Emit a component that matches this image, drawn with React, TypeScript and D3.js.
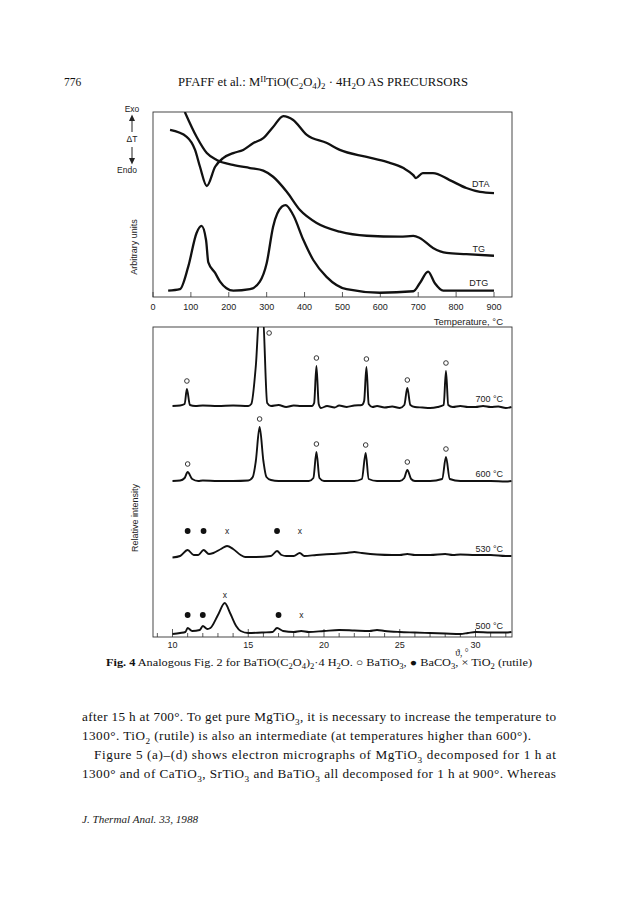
import React from 'react';
import * as d3 from 'd3';

// ---------- Thermal analysis (top panel) ----------
const TEMP_TICKS = [0, 100, 200, 300, 400, 500, 600, 700, 800, 900];
const DTA: [number, number][] = [
  [45, 90.3], [89, 86.6], [111, 79.5], [124, 70.4], [142, 60.0], [164, 70.4], [185, 75.1],
  [212, 77.8], [238, 79.5], [265, 83.2], [291, 85.9], [317, 91.9], [344, 97.8], [370, 95.7],
  [406, 87.6], [459, 83.2], [493, 79.5], [564, 75.7], [617, 73.0], [661, 69.7], [687, 65.9],
  [694, 64.3], [712, 67.0], [739, 67.0], [783, 63.2], [827, 58.9], [863, 56.8], [900, 56.2],
];
const TG: [number, number][] = [
  [84, 100], [115, 86.6], [142, 77.8], [168, 74.1], [211, 71.4], [256, 69.7], [291, 68.3],
  [317, 65.0], [353, 56.9], [388, 47.0], [432, 40.0], [493, 35.3], [564, 33.1], [652, 32.6],
  [687, 33.0], [704, 31.9], [739, 26.5], [775, 23.8], [827, 23.2], [900, 22.3],
];
const DTG: [number, number][] = [
  [40, 3.4], [71, 4.2], [93, 16.4], [115, 34.6], [128, 38.4], [140, 30.8], [146, 18.7],
  [164, 13.0], [177, 8.3], [194, 4.7], [212, 3.4], [256, 4.2], [282, 8.3], [300, 18.2],
  [317, 38.0], [340, 48.8], [350, 49.7], [370, 44.3], [397, 30.8], [423, 20.0], [458, 10.9],
  [511, 4.2], [599, 2.3], [687, 3.1], [704, 7.4], [726, 13.7], [744, 7.4], [766, 3.4],
  [827, 3.4], [900, 3.4],
];
const CURVE_NAMES = ['DTA', 'TG', 'DTG'];
const CURVE_LABEL_POS: [number, number][] = [[865, 61], [860, 26], [860, 7.5]];

// ---------- XRD (bottom panel) ----------
const THETA_MAJOR = [10, 15, 20, 25, 30];
const THETA_MINOR = d3.range(9, 33, 1);
const PATTERN_LABELS = ['700 °C', '600 °C', '530 °C', '500 °C'];
const PATTERN_OFFSETS = [231, 156, 81, 4];
const P700: [number, number][] = [
  [10.0, 0], [10.5, 0.5], [10.8, 2], [10.95, 17], [11.15, 1], [11.5, 0], [12, 0.5], [13, 0],
  [14, 0.5], [15, 0], [15.2, 2], [15.5, 40], [15.75, 95], [15.95, 95], [16.25, 3], [16.5, 0],
  [17, 1], [17.5, -1], [18, 0.5], [18.5, 0], [19.2, 0], [19.35, 3], [19.5, 40], [19.65, 2],
  [19.8, -2], [20.2, 0], [20.7, -1.5], [21, 0.5], [21.5, -1], [22, 0.5], [22.5, 1], [22.65, 5],
  [22.8, 39], [22.95, 2], [23.2, -1], [23.5, 0], [24, -1.5], [24.5, -0.5], [25, -2], [25.3, 1],
  [25.5, 18], [25.7, 1], [26, -1], [26.5, -1.5], [27, -2], [27.5, -1], [27.9, 1], [28.05, 35],
  [28.2, 1], [28.5, -1], [29, 0], [29.5, -1], [30, -1], [30.5, 0], [31, -1], [31.5, -0.5],
  [32, -2], [32.37, -1],
];
const P600: [number, number][] = [
  [10, 0], [10.5, 0.5], [10.8, 3], [11.0, 9], [11.3, 2], [11.7, 0], [12, 0.5], [13, 0], [14, 0],
  [15, 0.5], [15.3, 4], [15.5, 20], [15.75, 54], [16.0, 20], [16.2, 4], [16.5, 1], [17, 0],
  [18, 0], [19, 0], [19.3, 3], [19.5, 29], [19.7, 3], [20, 0], [21, 0], [22, 0], [22.5, 2],
  [22.75, 28], [22.95, 2], [23.5, 0], [24, 0], [25, 0], [25.3, 3], [25.5, 11], [25.75, 2],
  [26, 0], [27, 0], [27.8, 2], [28.05, 24], [28.3, 2], [29, 0], [30, 0], [31, 0], [32, -0.5],
  [32.37, 0],
];
const P530: [number, number][] = [
  [10, -1.5], [10.5, 0], [11.0, 6], [11.4, 1], [11.7, 1], [12.05, 6], [12.4, 2], [12.7, 3],
  [13.2, 7], [13.6, 10], [14, 7], [14.5, 1], [14.8, -1], [15.5, -1], [16.5, 0], [16.9, 5],
  [17.2, 1], [17.5, 0], [18, 0], [18.4, 3], [18.7, 0], [19.5, 1], [20.5, 2], [21.5, 3], [22, 4],
  [22.5, 3], [23.5, 1.5], [24.5, 1], [25, 1], [25.5, 2], [26, 1], [27, 1], [28, 2], [28.5, 1],
  [29, 1.5], [30, 1], [31, 1], [32, 0], [32.37, 0],
];
const P500: [number, number][] = [
  [10, -1], [10.5, 0], [10.85, 1], [11.0, 5], [11.3, 2], [11.8, 3], [12.0, 7], [12.3, 4],
  [12.5, 5], [13.0, 18], [13.45, 30], [13.8, 20], [14.2, 7], [14.5, 2], [15, 0], [16, 0.5],
  [16.6, 1], [16.9, 5], [17.3, 2], [18, 1], [18.5, 2], [19, 1], [20, 2], [21, 3], [22, 2.5],
  [23, 2], [23.5, 3], [24, 2], [25, 1], [26, 0.5], [27, 0], [28, -0.5], [29, -1], [29.5, 0],
  [30, 1], [31, 0.5], [32, 0.5], [32.37, 1],
];
const PATTERNS = [P700, P600, P530, P500];
const M700: [number, string][] = [[10.95, 'o'], [15.85, 'o'], [19.5, 'o'], [22.8, 'o'], [25.5, 'o'], [28.05, 'o']];
const M600: [number, string][] = [[11.0, 'o'], [15.75, 'o'], [19.5, 'o'], [22.75, 'o'], [25.5, 'o'], [28.05, 'o']];
const M530: [number, string][] = [[11.0, 'b'], [12.05, 'b'], [13.6, 'x'], [16.9, 'b'], [18.4, 'x']];
const M500: [number, string][] = [[11.0, 'b'], [12.0, 'b'], [13.45, 'x'], [17.0, 'b'], [18.5, 'x']];
const MARKERS = [M700, M600, M530, M500];
const MARKER_MIN = [0, 0, 25, 18];

// ---------- Page text ----------
const HEADER_PAGE = '776';
const HEADER_TITLE = 'PFAFF et al.: M^{II}TiO(C_{2}O_{4})_{2} · 4H_{2}O AS PRECURSORS';
const CAPTION = '*{Fig. 4} Analogous Fig. 2 for BaTiO(C_{2}O_{4})_{2}·4 H_{2}O. ○ BaTiO_{3}, ● BaCO_{3}, × TiO_{2} (rutile)';
const BODY = [
  'after 15 h at 700°. To get pure MgTiO_{3}, it is necessary to increase the temperature to',
  '1300°. TiO_{2} (rutile) is also an intermediate (at temperatures higher than 600°).',
  'Figure 5 (a)–(d) shows electron micrographs of MgTiO_{3} decomposed for 1 h at',
  '1300° and of CaTiO_{3}, SrTiO_{3} and BaTiO_{3} all decomposed for 1 h at 900°. Whereas',
];
const FOOTER = 'J. Thermal Anal. 33, 1988';

function rich(s: string, size: number) {
  const parts = s.split(/(_\{[^}]*\}|\^\{[^}]*\}|\*\{[^}]*\})/);
  let cur = 0;
  const out: any[] = [];
  parts.forEach((p, i) => {
    if (!p) return;
    let target = 0, txt = p, fs = size, bold = false;
    if (p.startsWith('_{')) { target = 0.3 * size; txt = p.slice(2, -1); fs = size * 0.7; }
    else if (p.startsWith('^{')) { target = -0.38 * size; txt = p.slice(2, -1); fs = size * 0.7; }
    else if (p.startsWith('*{')) { txt = p.slice(2, -1); bold = true; }
    const dy = target - cur;
    cur = target;
    out.push(<tspan key={i} dy={dy} fontSize={fs} fontWeight={bold ? 'bold' : undefined}>{txt}</tspan>);
  });
  return out;
}

const SANS = '"Liberation Sans", Arial, sans-serif';
const SERIF = '"Liberation Serif", "Times New Roman", serif';

export default function App() {
  // top panel
  const tL = 153, tR = 512, tT = 112, tB = 297;
  const xT = d3.scaleLinear().domain([0, 900]).range([153, 494]);
  const yT = d3.scaleLinear().domain([0, 100]).range([tB, tT]);
  const lineT = d3.line<[number, number]>().x(d => xT(d[0])).y(d => yT(d[1])).curve(d3.curveMonotoneX);

  // bottom panel
  const bL = 153, bR = 512, bT = 327, bB = 637;
  const xB = d3.scaleLinear().domain([10, 30]).range([172.5, 475.5]);
  const yB = d3.scaleLinear().domain([0, 310]).range([bB, bT]);
  const lineB = (off: number) =>
    d3.line<[number, number]>().x(d => xB(d[0])).y(d => yB(d[1] + off)).curve(d3.curveMonotoneX);

  const markerEls: any[] = [];
  MARKERS.forEach((ms, pi) => {
    const pat = PATTERNS[pi];
    const off = PATTERN_OFFSETS[pi];
    ms.forEach(([th, sym], mi) => {
      const local = d3.max(pat.filter(d => Math.abs(d[0] - th) <= 0.3), d => d[1]) ?? 0;
      let lvl = Math.max(local + 8, MARKER_MIN[pi]);
      let xx = xB(th);
      const maxLvl = 310 - 6 - off;
      if (lvl > maxLvl) { lvl = maxLvl; xx += 8; }
      const yy = yB(lvl + off);
      const key = `${pi}-${mi}`;
      if (sym === 'o') markerEls.push(<circle key={key} cx={xx} cy={yy} r={2.3} fill="none" stroke="#222" strokeWidth={0.9} />);
      else if (sym === 'b') markerEls.push(<circle key={key} cx={xx} cy={yy} r={2.9} fill="#111" />);
      else markerEls.push(<text key={key} x={xx} y={yy + 3} fontSize={8.5} fontFamily={SANS} textAnchor="middle" fill="#222">x</text>);
    });
  });

  const bodyX = [82, 82, 94, 82];
  const bodyLen = [474, 449, 462, 474];
  const bodyY = [721, 740, 759, 778];

  return (
    <svg width={643} height={903} style={{ position: 'absolute', left: 0, top: 0, background: '#fff' }}>
      <rect width={643} height={903} fill="#fff" />
      <defs>
        <clipPath id="clipT"><rect x={tL} y={tT} width={tR - tL} height={tB - tT} /></clipPath>
        <clipPath id="clipB"><rect x={bL} y={bT} width={bR - bL} height={bB - bT} /></clipPath>
      </defs>

      {/* header */}
      <text x={64} y={86} fontFamily={SERIF} fontSize={11.5} fill="#111">{HEADER_PAGE}</text>
      <text x={178} y={86} fontFamily={SERIF} fontSize={11.5} fill="#111" textLength={290} lengthAdjust="spacingAndGlyphs">{rich(HEADER_TITLE, 11.5)}</text>

      {/* ---------- top panel ---------- */}
      <rect x={tL} y={tT} width={tR - tL} height={tB - tT} fill="none" stroke="#333" strokeWidth={0.9} />
      {TEMP_TICKS.map(t => (
        <g key={t}>
          <line x1={xT(t)} x2={xT(t)} y1={tB} y2={tB - 5} stroke="#333" strokeWidth={0.8} />
          <text x={xT(t)} y={310} fontFamily={SANS} fontSize={9} textAnchor="middle" fill="#222">{t}</text>
        </g>
      ))}
      <text x={503} y={325} fontFamily={SANS} fontSize={9.5} textAnchor="end" fill="#222">Temperature, °C</text>
      <g clipPath="url(#clipT)" fill="none" stroke="#111" strokeWidth={2.3} strokeLinejoin="round">
        {[DTA, TG, DTG].map((s, i) => <path key={i} d={lineT(s) || ''} />)}
      </g>
      {CURVE_NAMES.map((n, i) => (
        <text key={n} x={xT(CURVE_LABEL_POS[i][0])} y={yT(CURVE_LABEL_POS[i][1]) + 3} fontFamily={SANS} fontSize={9} textAnchor="middle" fill="#222">{n}</text>
      ))}
      {/* Exo / ΔT / Endo */}
      <text x={132} y={112} fontFamily={SANS} fontSize={8.5} textAnchor="middle" fill="#222">Exo</text>
      <line x1={132} x2={132} y1={132} y2={119} stroke="#222" strokeWidth={1} />
      <path d="M129,121 L132,114.5 L135,121 Z" fill="#222" />
      <text x={132} y={142} fontFamily={SANS} fontSize={8.5} textAnchor="middle" fill="#222">ΔT</text>
      <line x1={132} x2={132} y1={147} y2={160} stroke="#222" strokeWidth={1} />
      <path d="M129,158 L132,164.5 L135,158 Z" fill="#222" />
      <text x={127} y={173} fontFamily={SANS} fontSize={8.5} textAnchor="middle" fill="#222">Endo</text>
      <text transform="translate(137,247) rotate(-90)" fontFamily={SANS} fontSize={9} textAnchor="middle" fill="#222">Arbitrary units</text>

      {/* ---------- bottom panel ---------- */}
      <rect x={bL} y={bT} width={bR - bL} height={bB - bT} fill="none" stroke="#333" strokeWidth={0.9} />
      {THETA_MINOR.map(t => (
        <line key={'m' + t} x1={xB(t)} x2={xB(t)} y1={bB} y2={bB - (THETA_MAJOR.includes(t) ? 8 : 4)} stroke="#333" strokeWidth={0.8} />
      ))}
      {THETA_MAJOR.map(t => (
        <text key={t} x={xB(t)} y={648} fontFamily={SANS} fontSize={9} textAnchor="middle" fill="#222">{t}</text>
      ))}
      <text x={462} y={656} fontFamily={SERIF} fontSize={9.5} textAnchor="middle" fill="#222">ϑ, °</text>
      <g clipPath="url(#clipB)" fill="none" stroke="#111" strokeWidth={1.9} strokeLinejoin="round">
        {PATTERNS.map((p, i) => <path key={i} d={lineB(PATTERN_OFFSETS[i])(p) || ''} />)}
      </g>
      {PATTERN_LABELS.map((l, i) => (
        <text key={l} x={503} y={yB(PATTERN_OFFSETS[i]) - 4} fontFamily={SANS} fontSize={9} textAnchor="end" fill="#222">{l}</text>
      ))}
      {markerEls}
      <text transform="translate(138,518) rotate(-90)" fontFamily={SANS} fontSize={9} textAnchor="middle" fill="#222">Relative intensity</text>

      {/* caption */}
      <text x={106} y={666} fontFamily={SERIF} fontSize={10.5} fill="#111" textLength={426} lengthAdjust="spacingAndGlyphs">{rich(CAPTION, 10.5)}</text>

      {/* body text */}
      {BODY.map((b, i) => (
        <text key={i} x={bodyX[i]} y={bodyY[i]} fontFamily={SERIF} fontSize={13.2} fill="#111" textLength={bodyLen[i]} lengthAdjust="spacing">{rich(b, 13.2)}</text>
      ))}
      <text x={82} y={823} fontFamily={SERIF} fontStyle="italic" fontSize={9.5} fill="#222" textLength={116} lengthAdjust="spacingAndGlyphs">{FOOTER}</text>
    </svg>
  );
}
